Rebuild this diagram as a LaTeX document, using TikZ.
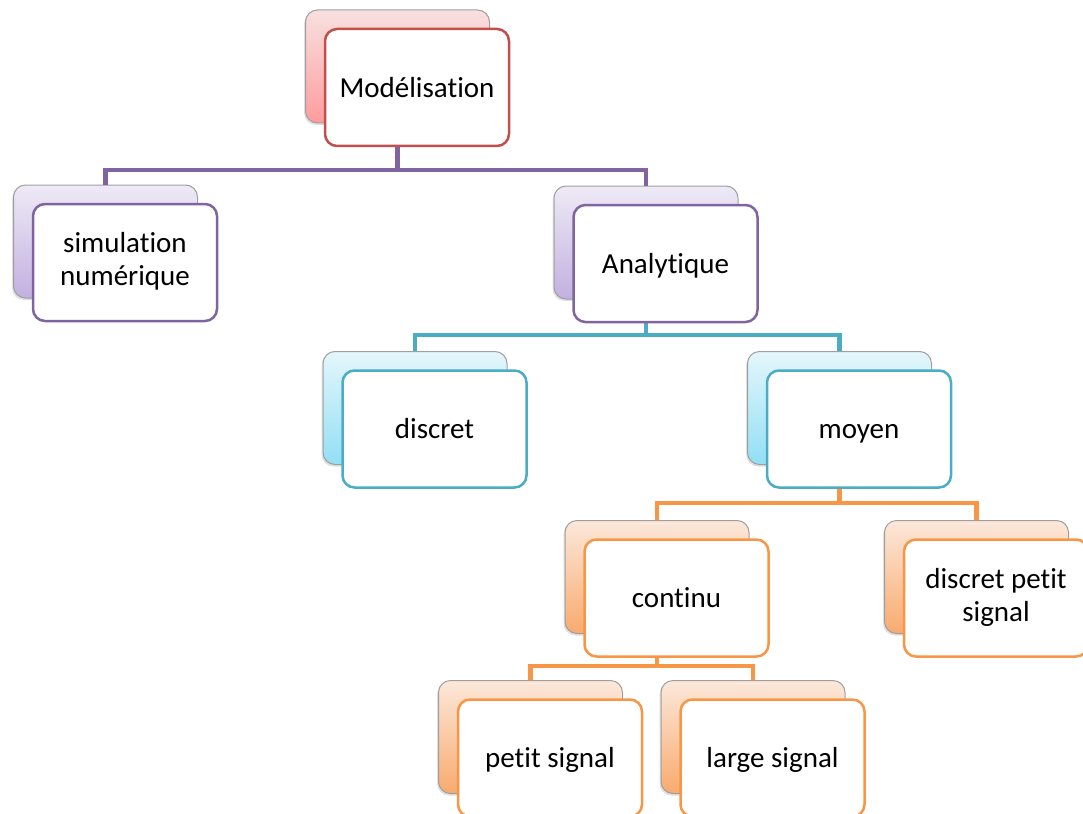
\documentclass[tikz,border=0pt]{standalone}
\usepackage{fontspec}
\setmainfont[Ligatures={NoCommon}]{Carlito}
\usetikzlibrary{calc,shadows}
\definecolor{cred}{HTML}{C0504D}
\definecolor{cpur}{HTML}{8064A2}
\definecolor{ccya}{HTML}{4BACC6}
\definecolor{cora}{HTML}{F79646}
\definecolor{redT}{HTML}{F8E0E0}\definecolor{redB}{HTML}{FF9C9C}
\definecolor{purT}{HTML}{EEEAF6}\definecolor{purB}{HTML}{C2B0E0}
\definecolor{cyaT}{HTML}{E4F6FB}\definecolor{cyaB}{HTML}{92DFF5}
\definecolor{oraT}{HTML}{FCE8DA}\definecolor{oraB}{HTML}{F9AA6E}
\newcommand{\mystrut}{\rule[-6.9pt]{0pt}{33pt}}
\tikzset{
  frontbox/.style={draw=#1, line width=2.5pt, rounded corners=12pt, fill=white,
    minimum width=184pt, minimum height=117pt, inner sep=0pt, align=center,
    font=\fontsize{29}{33}\selectfont,
    execute at begin node=\mystrut, execute at end node=\mystrut},
  backbox/.style 2 args={draw=gray!75, line width=1pt, rounded corners=12pt,
    top color=#1, bottom color=#2, minimum width=184pt, minimum height=113pt,
    drop shadow={opacity=0.25, shadow xshift=-1.5pt, shadow yshift=-2pt}},
  conn/.style={draw=#1, line width=4.8pt}
}
\begin{document}
\begin{tikzpicture}[x=1pt,y=-1pt]
\useasboundingbox (0,0) rectangle (1083,813);
% back boxes
\node[backbox={redT}{redB}] (Mb) at (397.5,66.5) {};
\node[backbox={purT}{purB}] (Sb) at (105.5,241.5) {};
\node[backbox={purT}{purB}] (Ab) at (646,242.5) {};
\node[backbox={cyaT}{cyaB}] (Db) at (415,408) {};
\node[backbox={cyaT}{cyaB}] (Mob) at (839.5,408) {};
\node[backbox={oraT}{oraB}] (Cb) at (657,577) {};
\node[backbox={oraT}{oraB}] (DPb) at (976.5,577) {};
\node[backbox={oraT}{oraB}] (Pb) at (530.5,737) {};
\node[backbox={oraT}{oraB}] (Lb) at (753,737) {};
% connector levels
\coordinate (h1) at (0,170);
\coordinate (h2) at (0,335);
\coordinate (h3) at (0,503);
\coordinate (h4) at (0,666);
% connectors (behind front boxes)
\draw[conn=cpur] (Mb.south) -- (Mb.south |- h1) -| (Sb.north);
\draw[conn=cpur] (Mb.south |- h1) -| (Ab.north);
\draw[conn=ccya] (Ab.south) -- (Ab.south |- h2) -| (Db.north);
\draw[conn=ccya] (Ab.south |- h2) -| (Mob.north);
\draw[conn=cora] (Mob.south) -- (Mob.south |- h3) -| (Cb.north);
\draw[conn=cora] (Mob.south |- h3) -| (DPb.north);
\draw[conn=cora] (Cb.south) -- (Cb.south |- h4) -| (Pb.north);
\draw[conn=cora] (Cb.south |- h4) -| (Lb.north);
% front boxes
\node[frontbox=cred] (M) at (417,87.5) {Modélisation};
\node[frontbox=cpur] (S) at (125,262.5) {simulation\\numérique};
\node[frontbox=cpur] (A) at (665.5,263.5) {Analytique};
\node[frontbox=ccya] (D) at (434.5,429) {discret};
\node[frontbox=ccya] (Mo) at (859,429) {moyen};
\node[frontbox=cora] (C) at (676.5,598) {continu};
\node[frontbox=cora] (DP) at (996,598) {discret petit\\signal};
\node[frontbox=cora] (P) at (550,758) {petit signal};
\node[frontbox=cora] (L) at (772.5,758) {large signal};
\end{tikzpicture}
\end{document}
